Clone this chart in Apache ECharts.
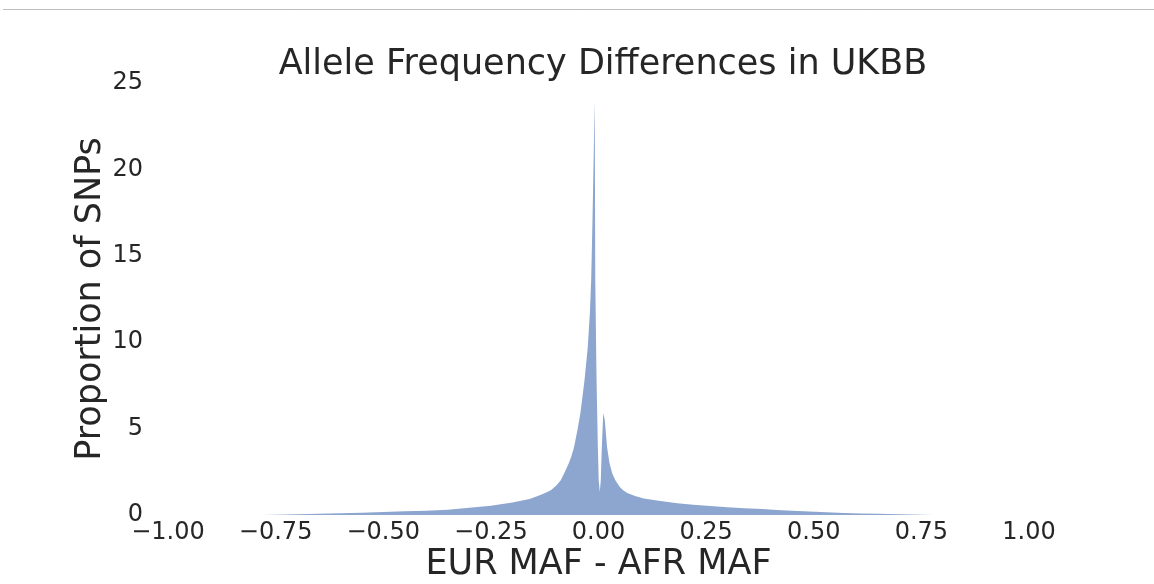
<!DOCTYPE html>
<html>
<head>
<meta charset="utf-8">
<script src="https://cdn.jsdelivr.net/npm/echarts@6/dist/echarts.min.js"></script>
<style>
html,body{margin:0;padding:0;background:#fff;}
#chart{width:1154px;height:584px;}
</style>
</head>
<body>
<div id="chart"></div>
<script>
// Data (x = EUR MAF - AFR MAF, y = proportion of SNPs)
const diffValues = [-0.78,-0.75,-0.70,-0.65,-0.60,-0.55,-0.50,-0.45,-0.40,-0.35,-0.30,-0.25,-0.20,-0.16,-0.135,-0.12,-0.11,-0.098,-0.088,-0.078,-0.069,-0.063,-0.057,-0.049,-0.042,-0.0325,-0.025,-0.020,-0.017,-0.014,-0.011,-0.009,-0.0085,-0.0075,-0.0065,-0.0055,-0.0045,-0.003,-0.0015,-0.0005,0.0005,0.003,0.0053,0.0077,0.011,0.0125,0.0146,0.020,0.0256,0.032,0.0395,0.050,0.058,0.067,0.085,0.105,0.14,0.183,0.22,0.26,0.30,0.338,0.38,0.415,0.45,0.49,0.53,0.57,0.61,0.65,0.70,0.75,0.78];
const proportions = [0,0.02,0.04,0.07,0.10,0.13,0.17,0.21,0.25,0.31,0.42,0.53,0.72,0.92,1.16,1.32,1.45,1.7,2.0,2.5,3.0,3.4,3.9,4.9,5.9,7.8,9.7,11.7,13.6,17,21,24,22,13.6,11.7,9.7,7.8,5.9,3.9,3.0,2.0,1.35,2.0,3.9,5.9,6.0,5.5,3.9,3.0,2.4,2.0,1.6,1.42,1.27,1.1,0.96,0.82,0.68,0.6,0.52,0.45,0.39,0.34,0.29,0.25,0.2,0.16,0.12,0.09,0.07,0.04,0.02,0];
const xTicks = {min: -1, max: 1, interval: 0.25};
const yTicks = {min: 0, max: 25, interval: 5};
const titleText = 'Allele Frequency Differences in UKBB';
const xTitle = 'EUR MAF - AFR MAF';
const yTitle = 'Proportion of SNPs';

const seriesData = diffValues.map((x, i) => [x, proportions[i]]);
const textColor = '#262626';
const fontFamily = 'DejaVu Sans';

const chart = echarts.init(document.getElementById('chart'), null, {renderer: 'canvas'});
chart.setOption({
  animation: false,
  backgroundColor: '#ffffff',
  graphic: [{
    type: 'line',
    shape: {x1: 3, y1: 9.5, x2: 1154, y2: 9.5},
    style: {stroke: '#bdbdbd', lineWidth: 1}
  }],
  title: {
    text: titleText,
    left: 598,
    textAlign: 'center',
    top: 42,
    textStyle: {fontFamily: fontFamily, fontSize: 35, fontWeight: 'normal', color: textColor}
  },
  grid: {left: 168, right: 125, top: 83, bottom: 69, containLabel: false, outerBoundsMode: 'none'},
  xAxis: {
    type: 'value',
    min: xTicks.min, max: xTicks.max, interval: xTicks.interval,
    name: xTitle,
    nameLocation: 'middle',
    nameGap: 32,
    nameMoveOverlap: false,
    nameTextStyle: {fontFamily: fontFamily, fontSize: 35, color: textColor},
    axisLine: {show: false},
    axisTick: {show: false},
    splitLine: {show: false},
    axisLabel: {
      margin: 6,
      fontFamily: fontFamily, fontSize: 24, color: textColor,
      formatter: v => v.toFixed(2).replace('-', '\u2212')
    }
  },
  yAxis: {
    type: 'value',
    min: yTicks.min, max: yTicks.max, interval: yTicks.interval,
    name: yTitle,
    nameLocation: 'middle',
    nameGap: 60,
    nameMoveOverlap: false,
    nameTextStyle: {fontFamily: fontFamily, fontSize: 35, color: textColor},
    axisLine: {show: false},
    axisTick: {show: false},
    splitLine: {show: false},
    axisLabel: {margin: 25, fontFamily: fontFamily, fontSize: 24, color: textColor}
  },
  series: [{
    type: 'line',
    data: seriesData,
    showSymbol: false,
    symbol: 'none',
    lineStyle: {width: 0},
    areaStyle: {color: '#8da6cf', opacity: 1},
    silent: true
  }]
});
</script>
</body>
</html>
